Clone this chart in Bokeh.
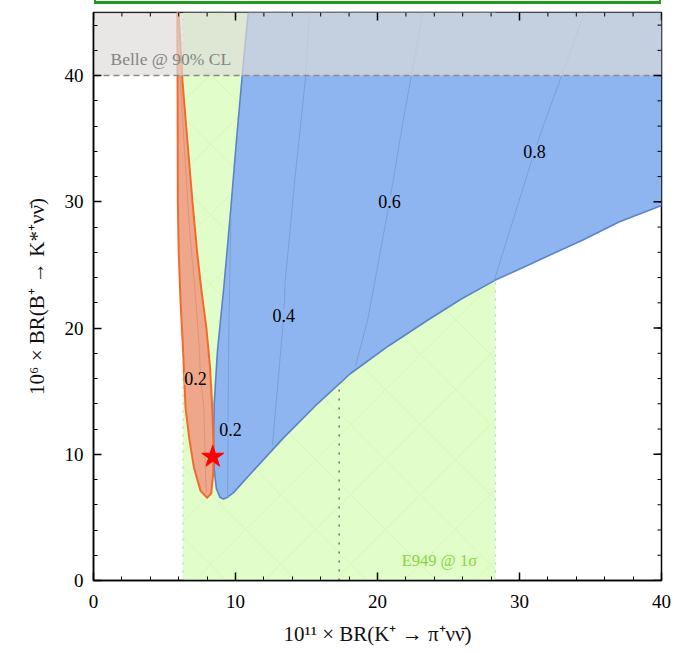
from bokeh.plotting import figure
from bokeh.models import Range1d, FixedTicker, Label, Div
from bokeh.layouts import column
from bokeh.embed import file_html
from bokeh.resources import INLINE

# ---------------- data ----------------
x_ticks = [0, 10, 20, 30, 40]
y_ticks = [0, 10, 20, 30, 40]
x_minor = list(range(0, 41, 2))
y_minor = list(range(0, 45, 2))

X_MAX, Y_MAX = 40, 45

# E949 1-sigma band and central value
e949_lo, e949_hi = 6.3, 28.3
e949_central = 17.3
e949_central_top = 15.4
# Belle 90% CL limit
belle_limit = 40.0

# blue allowed region (left edge top->bottom, then lower edge left->right)
blue_x = [10.9, 10.56, 10.1, 9.65, 9.2, 8.73, 8.5, 8.45, 8.5, 8.65, 8.9, 9.15, 9.42, 9.86,
          11.06, 13.38, 15.77, 18.1, 20.8, 23.5, 25.9, 28.3, 31.2, 34.5, 37.0, 40.0]
blue_y = [45.0, 41.1, 35.3, 29.2, 23.5, 18.2, 14.0, 11.1, 8.8, 7.3, 6.6, 6.45, 6.58, 6.96,
          8.46, 11.3, 14.0, 16.4, 18.6, 20.6, 22.3, 23.8, 25.3, 27.0, 28.4, 29.7]

# orange allowed region (closed outline)
orange_x = [5.9, 5.92, 5.94, 6.0, 6.13, 6.31, 6.48, 6.75, 7.07, 7.54, 8.0, 8.29, 8.43, 8.45,
            8.36, 8.2, 7.95, 7.6, 7.3, 6.97, 6.6, 6.27, 6.0]
orange_y = [45.0, 39.5, 30.0, 26.0, 22.1, 18.2, 13.7, 11.2, 8.96, 7.1, 6.56, 6.9, 8.46, 11.0,
            13.7, 17.0, 20.0, 23.0, 26.0, 30.0, 35.0, 39.5, 45.0]

# contour lines of the parameter
c02o_x = [7.96, 7.89, 7.77, 7.54, 7.42, 7.15, 6.75, 6.3, 6.0]
c02o_y = [7.0, 8.5, 13.7, 16.1, 19.0, 23.0, 28.0, 36.0, 42.0]
c02b_x = [9.45, 9.47, 9.52, 9.6, 9.68]
c02b_y = [6.6, 12.0, 19.0, 24.0, 28.8]
c04_x = [12.6, 13.0, 13.4, 13.5, 14.2, 14.93, 15.2]
c04_y = [10.7, 15.8, 21.0, 23.7, 32.0, 39.8, 45.0]
c06_x = [18.45, 19.3, 20.85, 21.8, 23.2]
c06_y = [17.0, 20.6, 30.0, 36.4, 45.0]
c08_x = [28.2, 31.06, 31.8, 34.6]
c08_y = [23.7, 34.0, 36.4, 45.0]

contour_labels = ["0.2", "0.2", "0.4", "0.6", "0.8"]
contour_label_x = [7.18, 9.65, 13.4, 20.85, 31.06]
contour_label_y = [16.0, 12.0, 21.0, 30.0, 34.0]
contour_label_bg = ["#eea78a", "#8fb5f0", "#8fb5f0", "#8fb5f0", "#8fb5f0"]

# benchmark point
star_x, star_y = [8.4], [9.8]

# ---------------- styles ----------------
SERIF = "Liberation Serif"
GREEN = "#e1fdc9"
BLUE = "#8fb5f0"
BLUE_EDGE = "#5a84c6"
BLUE_CONT = "#7a9fd6"
ORANGE = "#eea78a"
ORANGE_EDGE = "#f36b2c"

FRAME_W, FRAME_H = 568, 568

p = figure(width=674, height=649, x_range=Range1d(0, X_MAX), y_range=Range1d(0, Y_MAX),
           output_backend="svg", toolbar_location=None,
           min_border_left=93, min_border_right=13, min_border_top=8, min_border_bottom=73)
p.xgrid.visible = False
p.ygrid.visible = False
p.outline_line_color = "black"
p.outline_line_width = 1.5
p.background_fill_color = "white"
p.border_fill_color = "white"

bottom_ax = p.below[0]
left_ax = p.left[0]

# E949 band with faint diamond hatch
p.quad(left=[e949_lo], right=[e949_hi], bottom=[0], top=[Y_MAX], fill_color=GREEN,
       line_color=None, hatch_pattern="x", hatch_color="#cdf0ad", hatch_alpha=0.5,
       hatch_scale=70, hatch_weight=1)
for xe in [e949_lo, e949_hi]:
    p.line([xe, xe], [0, Y_MAX], line_color="#b9c9ad", line_dash="2 6", line_width=1)
p.line([e949_central, e949_central], [0, e949_central_top], line_color="#6f6f6f",
       line_dash="2 7", line_width=1.5)

# blue region
p.patch(blue_x + [X_MAX, X_MAX], blue_y + [Y_MAX, Y_MAX], fill_color=BLUE, line_color=None)
p.line(blue_x, blue_y, line_color=BLUE_EDGE, line_width=1.6, line_join="round")

# orange region
p.patch(orange_x, orange_y, fill_color=ORANGE, line_color=ORANGE_EDGE, line_width=2,
        line_join="round")

# contour lines
p.line(c02o_x, c02o_y, line_color="#d9957a", line_width=1)
for cx, cy in [(c02b_x, c02b_y), (c04_x, c04_y), (c06_x, c06_y), (c08_x, c08_y)]:
    p.line(cx, cy, line_color=BLUE_CONT, line_width=1)

for t, lx, ly, bg in zip(contour_labels, contour_label_x, contour_label_y, contour_label_bg):
    p.add_layout(Label(x=lx, y=ly, text=t, text_align="center", text_baseline="middle",
                       text_font=SERIF, text_font_size="18px", text_color="black",
                       background_fill_color=bg, background_fill_alpha=1.0))

# star
p.scatter(star_x, star_y, marker="star", size=23, fill_color="#ff0000", line_color="#ff0000")

# Belle excluded region
p.quad(left=[0], right=[X_MAX], bottom=[belle_limit], top=[Y_MAX], fill_color="#dddcd8",
       fill_alpha=0.68, line_color=None)
p.line([0, X_MAX], [belle_limit, belle_limit], line_color="#8a8a8a", line_dash="6 4",
       line_width=1.5)

p.add_layout(Label(x=1.2, y=41.3, text="Belle @ 90% CL", text_font=SERIF,
                   text_font_size="17.5px", text_color="#848484", text_baseline="middle"))
p.add_layout(Label(x=21.7, y=1.6, text="E949 @ 1σ", text_font=SERIF,
                   text_font_size="16.5px", text_color="#88d63e", text_baseline="middle"))

# mirrored inward ticks on top and right frame edges
dx_major = 8 * X_MAX / FRAME_W
dx_minor = 4 * X_MAX / FRAME_W
dy_major = 8 * Y_MAX / FRAME_H
dy_minor = 4 * Y_MAX / FRAME_H
p.segment(x0=x_ticks, y0=[Y_MAX] * len(x_ticks), x1=x_ticks,
          y1=[Y_MAX - dy_major] * len(x_ticks), line_color="black", line_width=1.5)
p.segment(x0=x_minor, y0=[Y_MAX] * len(x_minor), x1=x_minor,
          y1=[Y_MAX - dy_minor] * len(x_minor), line_color="black", line_width=1)
p.segment(x0=[X_MAX] * len(y_ticks), y0=y_ticks, x1=[X_MAX - dx_major] * len(y_ticks),
          y1=y_ticks, line_color="black", line_width=1.5)
p.segment(x0=[X_MAX] * len(y_minor), y0=y_minor, x1=[X_MAX - dx_minor] * len(y_minor),
          y1=y_minor, line_color="black", line_width=1)

# axes
bottom_ax.ticker = FixedTicker(ticks=x_ticks, minor_ticks=x_minor)
left_ax.ticker = FixedTicker(ticks=y_ticks, minor_ticks=y_minor)
bottom_ax.axis_label = "10¹¹ × BR(K⁺ → π⁺νν̄)"
left_ax.axis_label = "10⁶ × BR(B⁺ → K*⁺νν̄)"

for ax in [bottom_ax, left_ax]:
    ax.major_tick_in = 8
    ax.major_tick_out = 0
    ax.minor_tick_in = 4
    ax.minor_tick_out = 0
    ax.axis_line_color = "black"
    ax.axis_line_width = 1.5
    ax.major_tick_line_width = 1.5
    ax.minor_tick_line_width = 1
    ax.major_tick_line_color = "black"
    ax.minor_tick_line_color = "black"
    ax.major_label_text_font = SERIF
    ax.major_label_text_font_size = "19px"
    ax.major_label_text_color = "black"
    ax.axis_label_text_font = SERIF
    ax.axis_label_text_font_size = "21px"
    ax.axis_label_text_font_style = "normal"
    ax.axis_label_text_color = "#111111"

bottom_ax.major_label_standoff = 14
bottom_ax.axis_label_standoff = 11
left_ax.major_label_standoff = 10
left_ax.axis_label_standoff = 13

top_box = Div(text="", width=567, height=4, margin=(0, 0, 0, 94),
              styles={"border-bottom": "3px solid #1f9a1f", "border-left": "2px solid #1f9a1f",
                      "border-right": "2px solid #1f9a1f", "box-sizing": "border-box"})

layout = column(top_box, p, spacing=0)
open("out.html", "w").write(file_html(layout, INLINE))
